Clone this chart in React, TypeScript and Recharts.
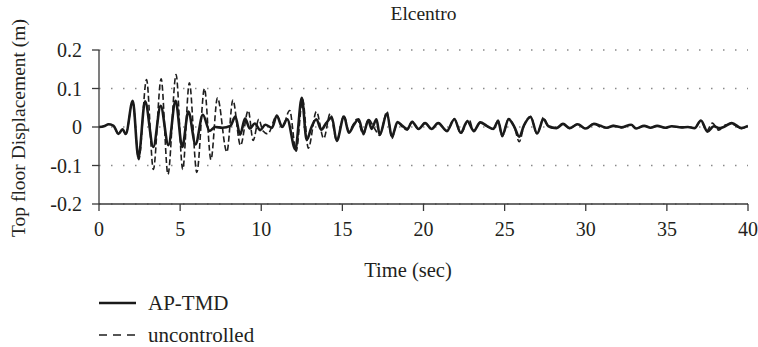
import React from "react";
import { LineChart, Line, XAxis, YAxis, CartesianGrid } from "recharts";

const TITLE = "Elcentro";
const X_LABEL = "Time (sec)";
const Y_LABEL = "Top floor Displacement (m)";
const SERIES_NAMES = ["AP-TMD", "uncontrolled"];
const X_TICKS = [0, 5, 10, 15, 20, 25, 30, 35, 40];
const Y_TICKS = [-0.2, -0.1, 0, 0.1, 0.2];

// AP-TMD (solid) – time (s) and displacement (m) at turning points
const apTime = [
  0, 0.3, 0.6, 0.9, 1.2, 1.45, 1.65, 2.08, 2.43, 2.84, 3.35, 3.8, 4.28, 4.72, 5.13, 5.51, 5.95, 6.4, 6.82, 7.16,
  7.6, 8.1, 8.4, 8.7, 9.0, 9.3, 9.6, 9.94, 10.25, 10.66, 10.96, 11.28, 11.6, 12.1, 12.5, 12.8, 13.1, 13.4, 13.7, 14.0,
  14.35, 14.65, 15.1, 15.4, 15.7, 16.0, 16.3, 16.6, 16.8, 17.1, 17.3, 17.75, 18.05, 18.4, 18.7, 19.0, 19.3, 19.7, 20.1, 20.5,
  20.9, 21.45, 21.9, 22.3, 22.7, 23.1, 23.5, 23.9, 24.3, 24.6, 24.85, 25.25, 25.6, 25.9, 26.2, 26.6, 27.0, 27.4, 27.7, 28.2,
  28.6, 29.0, 29.5, 30.0, 30.5, 30.9, 31.3, 31.7, 32.2, 32.8, 33.1, 33.6, 34.0, 34.4, 34.9, 35.3, 35.9, 36.3, 36.7, 37.1,
  37.5, 37.9, 38.2, 38.5, 39.0, 39.6, 40,
];
const apValue = [
  0, 0.002, 0.007, 0.003, -0.018, -0.006, -0.018, 0.068, -0.08, 0.067, -0.052, 0.055, -0.047, 0.068, -0.052, 0.04, -0.045, 0.032, -0.01, 0.0,
  -0.002, 0.003, 0.027, -0.02, 0.022, -0.004, 0.009, -0.008, 0.006, -0.002, 0.03, 0.0, 0.02, -0.058, 0.076, -0.034, 0.0, 0.02, -0.007, 0.01,
  0.025, -0.036, 0.027, -0.015, 0.005, 0.02, -0.017, 0.018, -0.005, 0.02, -0.02, 0.035, -0.025, 0.013, 0.003, -0.005, 0.013, -0.005, 0.01, -0.005,
  0.01, -0.01, 0.02, -0.015, 0.015, -0.01, 0.012, 0.003, -0.005, 0.015, -0.022, 0.02, 0.0, -0.025, 0.005, 0.026, -0.017, 0.02, 0.002, -0.003,
  0.008, -0.003, 0.007, -0.004, 0.008, 0.003, -0.002, 0.003, -0.001, 0.006, -0.004, 0.003, -0.002, 0.003, -0.002, 0.002, -0.001, 0.0, -0.003, 0.017,
  -0.012, 0.002, -0.003, 0.0, 0.01, -0.003, 0.003,
];

// uncontrolled (dashed)
const unTime = [
  0, 0.3, 0.6, 0.9, 1.2, 1.45, 1.65, 2.08, 2.45, 2.93, 3.35, 3.83, 4.25, 4.75, 5.16, 5.57, 6.03, 6.5, 6.9, 7.3,
  7.88, 8.25, 8.72, 9.2, 9.5, 9.85, 10.1, 10.4, 10.96, 11.3, 11.75, 12.15, 12.55, 12.9, 13.4, 13.85, 14.25, 14.65, 15.1, 15.4,
  15.9, 16.3, 16.6, 17.0, 17.3, 17.75, 18.05, 18.4, 18.7, 19.0, 19.3, 19.7, 20.1, 20.5, 20.9, 21.45, 21.9, 22.3, 22.8, 23.1,
  23.5, 23.9, 24.3, 24.6, 24.85, 25.25, 25.6, 25.9, 26.2, 26.6, 27.0, 27.4, 27.7, 28.2, 28.6, 29.0, 29.5, 30.0, 30.5, 30.9,
  31.3, 31.7, 32.2, 32.8, 33.1, 33.6, 34.0, 34.4, 34.9, 35.3, 35.9, 36.3, 36.7, 37.1, 37.45, 37.8, 38.2, 38.6, 39.0, 39.6,
  40,
];
const unValue = [
  0, 0.002, 0.007, 0.003, -0.018, -0.006, -0.018, 0.065, -0.085, 0.123, -0.11, 0.125, -0.123, 0.136, -0.11, 0.115, -0.118, 0.1, -0.085, 0.076,
  -0.065, 0.07, -0.048, 0.043, -0.035, 0.02, -0.01, -0.018, 0.03, 0.0, 0.043, -0.063, 0.072, -0.055, 0.04, -0.03, 0.035, -0.035, 0.03, -0.01,
  0.02, -0.02, 0.02, -0.005, -0.022, 0.04, -0.03, 0.012, 0.0, -0.008, 0.015, -0.006, 0.012, -0.007, 0.012, -0.012, 0.022, -0.017, 0.02, -0.012,
  0.012, 0.002, -0.006, 0.018, -0.025, 0.022, 0.0, -0.038, 0.004, 0.028, -0.018, 0.025, 0.0, -0.003, 0.009, -0.004, 0.008, -0.005, 0.009, 0.0,
  -0.002, 0.004, -0.002, 0.006, -0.004, 0.003, -0.002, 0.003, -0.002, 0.002, -0.001, 0.0, -0.003, 0.016, -0.01, 0.01, -0.008, 0.005, 0.008, -0.004,
  0.004,
];

const apData = apTime.map((t, i) => ({ t, v: apValue[i] }));
const unData = unTime.map((t, i) => ({ t, v: unValue[i] }));

const FONT = "'Liberation Serif', 'Times New Roman', serif";
const TEXT_COLOR = "#231f20";
const AXIS_COLOR = "#3a3a3a";

const fmtY = (v: number) => (v === 0 ? "0" : String(Math.round(v * 10) / 10));

export default function App() {
  return (
    <div style={{ position: "absolute", left: 0, top: 0, width: 758, height: 347, background: "#fff" }}>
      <LineChart width={758} height={347} margin={{ top: 50, right: 10, bottom: 63, left: 39 }}>
        <CartesianGrid
          horizontal
          vertical={false}
          stroke="#8a8a8a"
          strokeWidth={1.4}
          strokeDasharray="1.5 10.5"
        />
        <XAxis
          type="number"
          dataKey="t"
          domain={[0, 40]}
          ticks={X_TICKS}
          allowDataOverflow
          height={80}
          tickSize={7}
          tickMargin={11}
          stroke={AXIS_COLOR}
          strokeWidth={1.3}
          tick={{ fontFamily: FONT, fontSize: 20, fill: TEXT_COLOR }}
          tickLine={{ stroke: AXIS_COLOR, strokeWidth: 1.3 }}
        />
        <YAxis
          type="number"
          domain={[-0.2, 0.2]}
          ticks={Y_TICKS}
          allowDataOverflow
          width={60}
          tickSize={7}
          tickMargin={10}
          tickFormatter={fmtY}
          stroke={AXIS_COLOR}
          strokeWidth={1.3}
          tick={{ fontFamily: FONT, fontSize: 20, fill: TEXT_COLOR }}
          tickLine={{ stroke: AXIS_COLOR, strokeWidth: 1.3 }}
        />
        <Line
          data={unData}
          dataKey="v"
          name={SERIES_NAMES[1]}
          type="monotone"
          stroke="#1e1e1e"
          strokeWidth={1.6}
          strokeDasharray="6 3"
          dot={false}
          activeDot={false}
          isAnimationActive={false}
        />
        <Line
          data={apData}
          dataKey="v"
          name={SERIES_NAMES[0]}
          type="monotone"
          stroke="#1a1a1a"
          strokeWidth={2.6}
          dot={false}
          activeDot={false}
          isAnimationActive={false}
        />
        <text x={423.5} y={20} textAnchor="middle" fontFamily={FONT} fontSize={19.5} fill={TEXT_COLOR}>
          {TITLE}
        </text>
        <text x={408} y={277} textAnchor="middle" fontFamily={FONT} fontSize={20.5} fill={TEXT_COLOR}>
          {X_LABEL}
        </text>
        <text
          transform="translate(25,128) rotate(-90)"
          x={0}
          y={0}
          textAnchor="middle"
          fontFamily={FONT}
          fontSize={19.5}
          fill={TEXT_COLOR}
        >
          {Y_LABEL}
        </text>
        <line x1={99} x2={136} y1={303} y2={303} stroke="#1a1a1a" strokeWidth={2.6} />
        <text x={148} y={310} fontFamily={FONT} fontSize={21} fill={TEXT_COLOR}>
          {SERIES_NAMES[0]}
        </text>
        <line x1={99} x2={136} y1={335} y2={335} stroke="#1e1e1e" strokeWidth={1.6} strokeDasharray="8 6" />
        <text x={148} y={342} fontFamily={FONT} fontSize={21} fill={TEXT_COLOR}>
          {SERIES_NAMES[1]}
        </text>
      </LineChart>
    </div>
  );
}
